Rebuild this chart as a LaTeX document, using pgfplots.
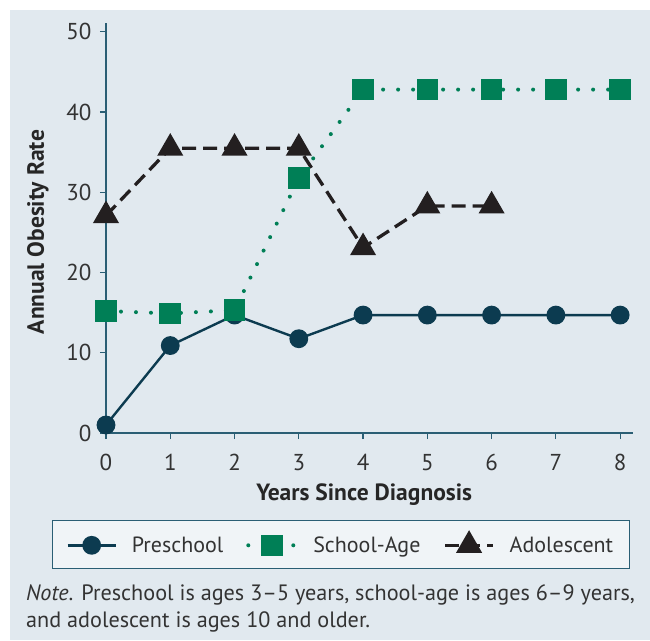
\documentclass[border=0pt]{standalone}
\usepackage{fontspec}
\setmainfont{PT Sans}
\usepackage{pgfplots}
\pgfplotsset{compat=1.18}

\definecolor{panel}{HTML}{E1E9EF}
\definecolor{legfill}{HTML}{F0F4F7}
\definecolor{preschool}{HTML}{0C3B50}
\definecolor{axisc}{HTML}{2A5E74}
\definecolor{schoolage}{HTML}{007F56}
\definecolor{adolescent}{HTML}{231F20}

\begin{document}
\begin{tikzpicture}[x=1pt,y=1pt]
\fill[white] (0,0) rectangle (650,-640);
\fill[panel] (10,-10) rectangle (650,-640);
\begin{axis}[
  at={(106pt,-433pt)}, anchor=south west,
  scale only axis, width=527pt, height=410pt,
  xmin=0, xmax=8.2, ymin=0, ymax=51.1,
  clip=false,
  axis lines*=left,
  axis line style={axisc, line width=1.2pt},
  x axis line style={shorten <=-6pt},
  xtick={0,...,8}, ytick={0,10,...,50},
  tick align=outside, major tick length=6pt,
  tick style={axisc, line width=1.2pt},
  /pgf/number format/assume math mode=true,
  ticklabel style={font=\fontsize{23}{26}\selectfont, text=black!80},
  xticklabel style={anchor=north, yshift=-12pt},
  yticklabel style={xshift=-5pt},
  xlabel={\textbf{Years Since Diagnosis}},
  ylabel={\textbf{Annual Obesity Rate}},
  label style={font=\fontsize{23.5}{26}\selectfont, text=black!85},
  xlabel style={at={(rel axis cs:0.49,-0.1634)}, anchor=base},
  ylabel style={at={(rel axis cs:-0.129,0.49)}, anchor=center, rotate=0},
  legend columns=3,
  legend style={at={(rel axis cs:-0.1025,-0.2122)}, anchor=north west,
    draw=axisc, line width=1pt, fill=legfill,
    font=\fontsize{22}{25}\selectfont, text=black!80,
    inner xsep=14pt, inner ysep=13pt,
    /tikz/every odd column/.append style={column sep=13pt},
    /tikz/every even column/.append style={column sep=21pt}},
  legend image code/.code={%
    \draw[mark repeat=2,mark phase=2] plot coordinates {(0pt,0pt) (24pt,0pt) (48pt,0pt)};},
]
\addplot[preschool, line width=2.4pt, mark=*, mark size=8.2pt,
  mark options={solid, fill=preschool, draw=preschool}]
  coordinates {(0,1.0) (1,10.9) (2,14.7) (3,11.75) (4,14.7) (5,14.7) (6,14.7) (7,14.7) (8,14.7)};
\addlegendentry{Preschool}
\addplot[schoolage, line width=4pt, line cap=round, dash pattern=on 0pt off 15pt,
  mark=square*, mark size=8.8pt, mark options={solid, fill=schoolage, draw=schoolage}]
  coordinates {(0,15.2) (1,14.9) (2,15.3) (3,31.75) (4,42.8) (5,42.8) (6,42.8) (7,42.8) (8,42.8)};
\addlegendentry{School-Age}
\addplot[adolescent, line width=3.3pt, dash pattern=on 14pt off 7pt,
  mark=triangle*, mark size=11.8pt, mark options={solid, fill=adolescent, draw=adolescent}]
  coordinates {(0,27.1) (1,35.5) (2,35.5) (3,35.5) (4,23.1) (5,28.3) (6,28.3)};
\addlegendentry{Adolescent}
\end{axis}
\fill[white] (0,0) rectangle (650,-10);
\fill[white] (0,0) rectangle (10,-640);
\node[anchor=base west, inner sep=0pt, text=black!80, font=\fontsize{22.2}{26}\selectfont]
  at (26,-600) {\textit{Note}. Preschool is ages 3–5 years, school-age is ages 6–9 years,};
\node[anchor=base west, inner sep=0pt, text=black!80, font=\fontsize{22.2}{26}\selectfont]
  at (26,-627) {and adolescent is ages 10 and older.};
\end{tikzpicture}
\end{document}
